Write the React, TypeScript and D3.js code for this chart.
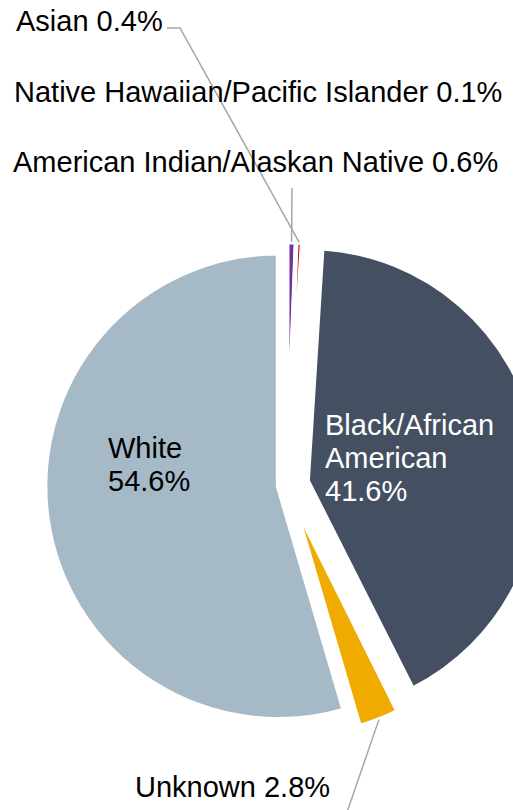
import { useEffect, useRef } from 'react'
import * as d3 from 'd3'

// data, clockwise from 12 o'clock
const categories = [
  'American Indian/Alaskan Native',
  'Asian',
  'Black/African American',
  'Native Hawaiian/Pacific Islander',
  'Unknown',
  'White',
]
const values = [0.6, 0.4, 41.6, 0.1, 2.8, 54.6]
const colors = ['#7030A0', '#C00000', '#445061', '#5B9BD5', '#F0AB00', '#A5B9C7']
const explode = [10, 10, 21, 20, 19, 9]

// label placement (Excel-style), leader points are where the line leaves the label
const labelLayout: Record<string, { x: number; y: number; lines: 'one' | 'split'; fill: string; leader?: [number, number][]; toLabel?: boolean }> = {
  'Asian': { x: 16, y: 31, lines: 'one', fill: '#000', leader: [[167, 28], [180, 28]] },
  'Native Hawaiian/Pacific Islander': { x: 14, y: 102, lines: 'one', fill: '#000' },
  'American Indian/Alaskan Native': { x: 13, y: 172, lines: 'one', fill: '#000', leader: [[292, 188]] },
  'Black/African American': { x: 325, y: 435, lines: 'split', fill: '#fff' },
  'White': { x: 108, y: 458, lines: 'split', fill: '#000' },
  'Unknown': { x: 135, y: 797, lines: 'one', fill: '#000', leader: [[345, 818]], toLabel: true },
}

const W = 513
const H = 810
const cx = 287
const cy = 485
const R = 233
const fontSize = 29
const lineH = 33

type Slice = { name: string; value: number; color: string; explode: number }

export default function App() {
  const svgRef = useRef<SVGSVGElement>(null)

  useEffect(() => {
    if (!svgRef.current) return
    const svg = d3.select(svgRef.current)
    svg.selectAll('*').remove()

    const data: Slice[] = categories.map((name, i) => ({ name, value: values[i], color: colors[i], explode: explode[i] }))
    const arcs = d3.pie<Slice>().sort(null).value(d => d.value)(data)
    const arc = d3.arc<d3.PieArcDatum<Slice>>().innerRadius(0).outerRadius(R)

    const dir = (a: number, d: number): [number, number] => [Math.sin(a) * d, -Math.cos(a) * d]
    const mid = (d: d3.PieArcDatum<Slice>) => (d.startAngle + d.endAngle) / 2

    const g = svg.append('g').attr('transform', `translate(${cx},${cy})`)

    g.selectAll('path.slice')
      .data(arcs)
      .join('path')
      .attr('class', 'slice')
      .attr('transform', d => {
        const [x, y] = dir(mid(d), d.data.explode)
        return `translate(${x},${y})`
      })
      .attr('d', arc)
      .attr('fill', d => d.data.color)
      .attr('stroke', '#fff')
      .attr('stroke-width', 4.6)

    // leader lines
    const line = d3.line()
    for (const d of arcs) {
      const lay = labelLayout[d.data.name]
      if (!lay || !lay.leader) continue
      const [ox, oy] = dir(mid(d), d.data.explode + R)
      const edge: [number, number] = [cx + ox, cy + oy]
      const pts = lay.toLabel ? [edge, ...lay.leader] : [...lay.leader, edge]
      svg.append('path')
        .attr('d', line(pts))
        .attr('fill', 'none')
        .attr('stroke', '#A6A6A6')
        .attr('stroke-width', 1.5)
    }

    // labels
    for (const d of arcs) {
      const lay = labelLayout[d.data.name]
      if (!lay) continue
      const pct = `${d.data.value.toFixed(1)}%`
      const rows = lay.lines === 'one'
        ? [`${d.data.name} ${pct}`]
        : [...d.data.name.split(' '), pct]
      const t = svg.append('text')
        .attr('x', lay.x)
        .attr('y', lay.y)
        .attr('fill', lay.fill)
        .attr('font-family', '"Liberation Sans", Arial, sans-serif')
        .attr('font-size', fontSize)
      rows.forEach((r, i) => {
        t.append('tspan').attr('x', lay.x).attr('dy', i === 0 ? 0 : lineH).text(r)
      })
    }
  }, [])

  return (
    <svg
      ref={svgRef}
      width={W}
      height={H}
      style={{ position: 'fixed', left: 0, top: 0, background: '#fff', display: 'block' }}
    />
  )
}
